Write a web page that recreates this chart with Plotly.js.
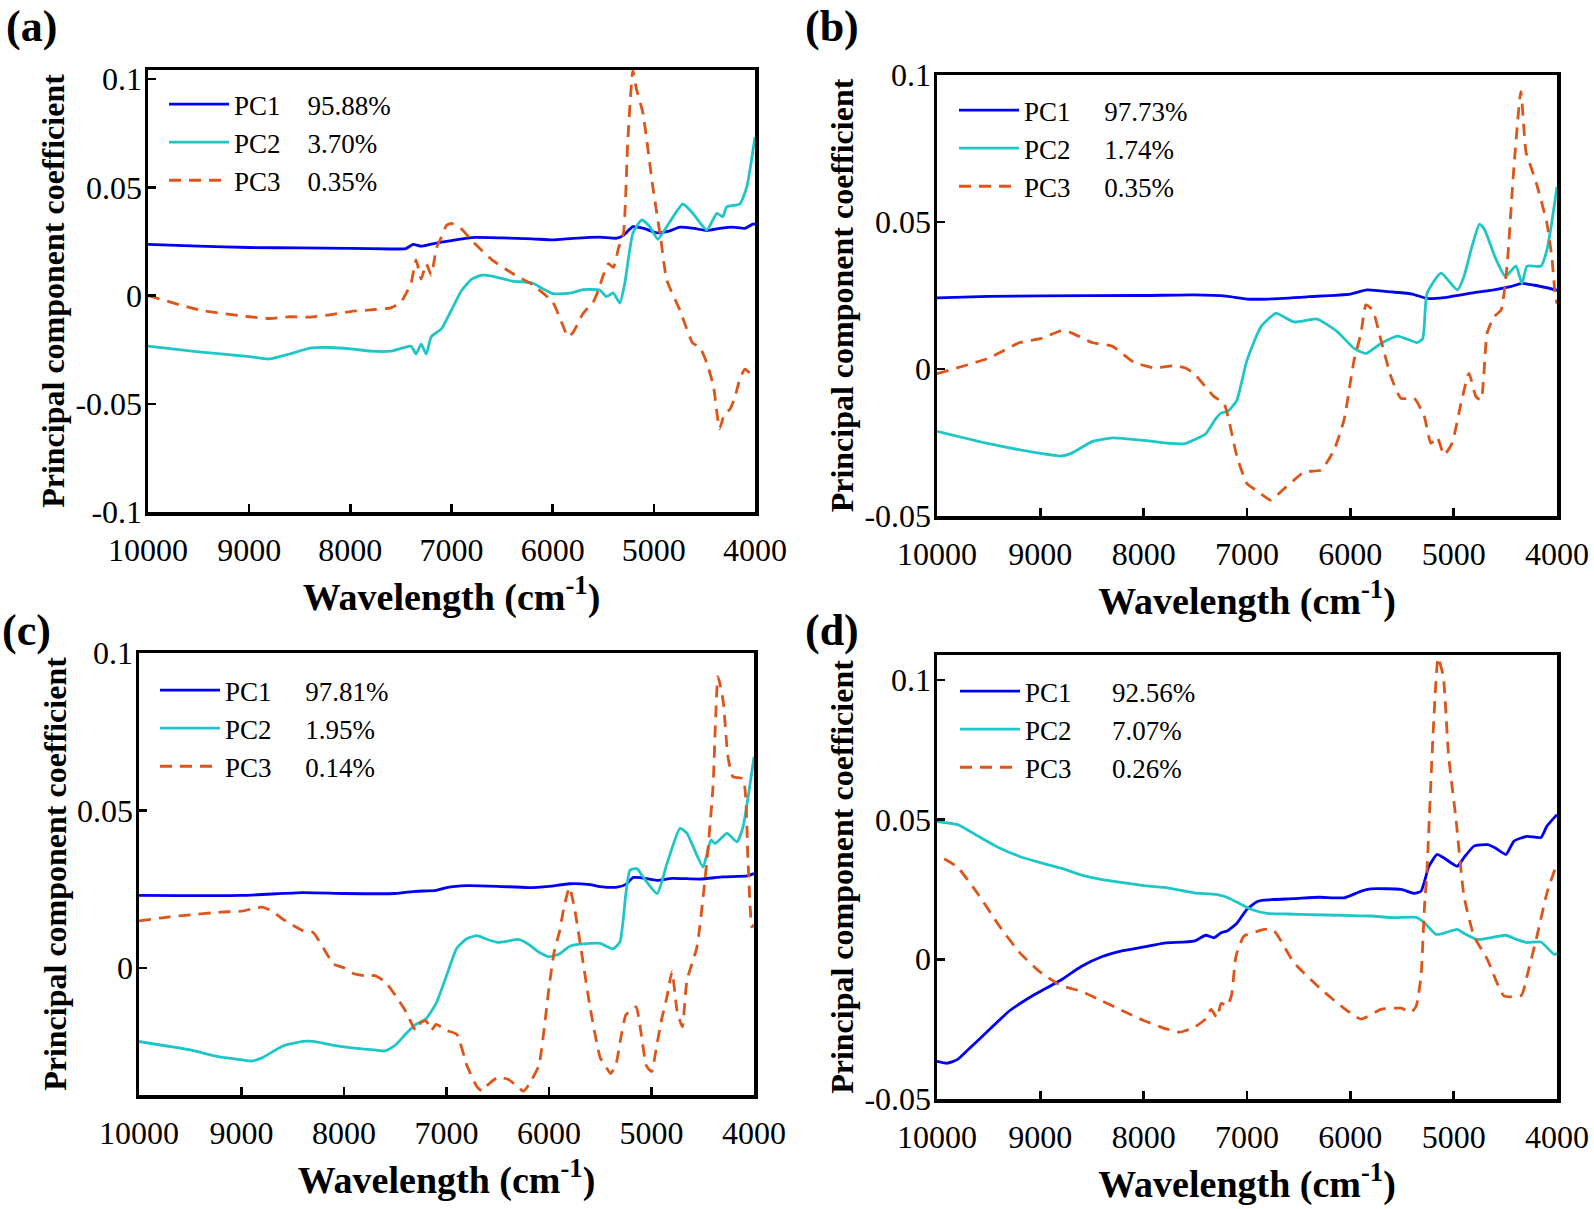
<!DOCTYPE html>
<html><head><meta charset="utf-8">
<script src="https://cdn.plot.ly/plotly-3.0.1.min.js"></script>
<style>html,body{margin:0;padding:0;background:#fff;} #chart{width:1594px;height:1209px;}</style>
</head><body><div id="chart"></div>
<script>
// ---------------- DATA ----------------
const panelLabels = ['(a)', '(b)', '(c)', '(d)'];
const seriesNames = ['PC1', 'PC2', 'PC3'];
const varianceA = ['95.88%', '3.70%', '0.35%'];
const varianceB = ['97.73%', '1.74%', '0.35%'];
const varianceC = ['97.81%', '1.95%', '0.14%'];
const varianceD = ['92.56%', '7.07%', '0.26%'];
const xTickVals = [10000, 9000, 8000, 7000, 6000, 5000, 4000];
const xTickText = ['10000', '9000', '8000', '7000', '6000', '5000', '4000'];
const yTickValsA = [-0.1, -0.05, 0, 0.05, 0.1];
const yTickTextA = ['-0.1', '-0.05', '0', '0.05', '0.1'];
const yTickValsB = [-0.05, 0, 0.05, 0.1];
const yTickTextB = ['-0.05', '0', '0.05', '0.1'];
const yTickValsC = [0, 0.05, 0.1];
const yTickTextC = ['0', '0.05', '0.1'];
const yTickValsD = [-0.05, 0, 0.05, 0.1];
const yTickTextD = ['-0.05', '0', '0.05', '0.1'];

// (a)
const a_pc1_x = [10000, 9500, 9000, 8500, 8000, 7600, 7450, 7380, 7300, 7200, 7000, 6800, 6500, 6200, 6000, 5800, 5534, 5366, 5300, 5207, 5100, 4970, 4850, 4743, 4600, 4476, 4350, 4219, 4100, 4022, 4000];
const a_pc1_y = [0.0236, 0.0228, 0.0222, 0.0220, 0.0218, 0.0215, 0.0217, 0.0236, 0.0228, 0.0238, 0.0254, 0.0268, 0.0266, 0.0262, 0.0257, 0.0264, 0.0270, 0.0265, 0.0278, 0.0318, 0.0310, 0.0290, 0.0298, 0.0316, 0.0310, 0.0300, 0.0310, 0.0316, 0.0310, 0.0330, 0.0330];
const a_pc2_x = [10000, 9500, 9000, 8800, 8600, 8400, 8200, 8000, 7800, 7600, 7400, 7350, 7300, 7250, 7200, 7100, 7000, 6900, 6800, 6700, 6600, 6400, 6200, 6100, 6000, 5900, 5800, 5700, 5534, 5468, 5402, 5336, 5287, 5207, 5119, 5040, 4960, 4872, 4713, 4615, 4476, 4377, 4318, 4279, 4150, 4081, 4000];
const a_pc2_y = [-0.0234, -0.026, -0.0282, -0.0293, -0.027, -0.0243, -0.024, -0.0246, -0.0257, -0.0257, -0.0234, -0.027, -0.0225, -0.027, -0.019, -0.0154, -0.0066, 0.0023, 0.0076, 0.0094, 0.009, 0.0067, 0.0058, 0.0032, 0.0009, 0.0009, 0.0014, 0.0027, 0.0025, -0.0005, 0.0012, -0.0035, 0.0057, 0.0288, 0.0349, 0.0318, 0.026, 0.0318, 0.0423, 0.038, 0.0303, 0.038, 0.0364, 0.041, 0.0423, 0.0502, 0.0733];
const a_pc3_x = [10000, 9500, 9000, 8800, 8600, 8400, 8200, 8000, 7800, 7600, 7500, 7400, 7350, 7300, 7250, 7200, 7150, 7100, 7050, 7000, 6900, 6800, 6600, 6400, 6200, 6000, 5900, 5850, 5800, 5700, 5600, 5550, 5500, 5450, 5400, 5350, 5300, 5257, 5207, 5174, 5108, 5010, 4930, 4872, 4743, 4615, 4546, 4476, 4410, 4350, 4300, 4250, 4200, 4150, 4100, 4050, 4000];
const a_pc3_y = [0, -0.0066, -0.0098, -0.0106, -0.0098, -0.01, -0.0089, -0.0074, -0.0066, -0.0057, -0.003, 0.0058, 0.0165, 0.0076, 0.0147, 0.0094, 0.0218, 0.027, 0.0324, 0.0333, 0.0307, 0.0254, 0.0165, 0.0103, 0.005, -0.003, -0.0137, -0.019, -0.0172, -0.0083, -0.003, 0.0023, 0.0094, 0.0147, 0.013, 0.0218, 0.0289, 0.0718, 0.104, 0.0958, 0.0843, 0.0502, 0.0256, 0.0072, -0.0067, -0.022, -0.0238, -0.0312, -0.042, -0.0615, -0.0544, -0.0527, -0.0473, -0.0385, -0.034, -0.0358, -0.0332];

// (b)
const b_pc1_x = [10000, 9500, 9000, 8000, 7513, 7200, 7000, 6800, 6400, 6000, 5839, 5600, 5400, 5258, 5093, 4800, 4610, 4450, 4339, 4200, 4000];
const b_pc1_y = [0.0242, 0.0247, 0.0249, 0.025, 0.0252, 0.0248, 0.0238, 0.0238, 0.0246, 0.0255, 0.0269, 0.0262, 0.0255, 0.024, 0.0243, 0.026, 0.0269, 0.028, 0.0291, 0.0284, 0.0268];
const b_pc2_x = [10000, 9500, 9000, 8800, 8700, 8500, 8300, 8000, 7800, 7600, 7513, 7400, 7300, 7252, 7190, 7100, 7000, 6864, 6719, 6545, 6322, 6129, 5964, 5849, 5704, 5542, 5355, 5300, 5258, 5123, 4965, 4900, 4832, 4750, 4700, 4600, 4500, 4397, 4339, 4290, 4155, 4097, 4050, 4000];
const b_pc2_y = [-0.0212, -0.0254, -0.0287, -0.0296, -0.0287, -0.0247, -0.0234, -0.0243, -0.0251, -0.0254, -0.0241, -0.0221, -0.0168, -0.015, -0.0145, -0.0108, 0.003, 0.0144, 0.0189, 0.016, 0.017, 0.0128, 0.007, 0.0053, 0.0087, 0.0112, 0.009, 0.0103, 0.0257, 0.0326, 0.0269, 0.0315, 0.0405, 0.0493, 0.0474, 0.0381, 0.0315, 0.035, 0.029, 0.035, 0.035, 0.0405, 0.05, 0.0619];
const b_pc3_x = [10000, 9500, 9200, 9000, 8800, 8700, 8500, 8300, 8100, 7900, 7700, 7600, 7513, 7319, 7223, 7097, 7000, 6900, 6768, 6650, 6545, 6448, 6284, 6158, 6061, 5964, 5897, 5849, 5784, 5704, 5607, 5510, 5381, 5284, 5220, 5161, 5093, 5016, 4929, 4852, 4784, 4736, 4677, 4610, 4542, 4484, 4420, 4350, 4300, 4250, 4200, 4100, 4050, 4020, 4000];
const b_pc3_y = [-0.0016, 0.0037, 0.009, 0.0103, 0.013, 0.0123, 0.009, 0.0077, 0.0024, 0.0004, 0.0011, 0.0004, -0.0015, -0.0094, -0.0117, -0.0298, -0.039, -0.0415, -0.0446, -0.041, -0.0378, -0.035, -0.0344, -0.0276, -0.0173, 0.003, 0.0121, 0.0218, 0.02, 0.0099, -0.0026, -0.01, -0.01, -0.0162, -0.0253, -0.0231, -0.0292, -0.0253, -0.0117, -0.0015, -0.0094, -0.0106, 0.0121, 0.0178, 0.02, 0.0348, 0.0672, 0.0943, 0.0738, 0.0685, 0.0632, 0.05, 0.0381, 0.0262, 0.0222];

// (c)
const c_pc1_x = [10000, 9000, 8400, 8000, 7500, 7300, 7100, 7000, 6800, 6500, 6200, 6000, 5800, 5600, 5502, 5337, 5250, 5180, 5100, 4946, 4800, 4527, 4300, 4068, 4000];
const c_pc1_y = [0.023, 0.023, 0.0239, 0.0236, 0.0236, 0.0243, 0.0246, 0.0255, 0.0261, 0.0259, 0.0255, 0.0259, 0.0267, 0.0264, 0.0258, 0.0256, 0.0265, 0.0287, 0.0286, 0.0278, 0.0284, 0.0282, 0.0289, 0.0292, 0.0299];
const c_pc2_x = [10000, 9500, 9200, 9000, 8900, 8800, 8600, 8400, 8300, 8100, 7900, 7700, 7600, 7500, 7400, 7300, 7200, 7100, 7000, 6900, 6800, 6700, 6600, 6500, 6400, 6300, 6200, 6100, 6000, 5900, 5800, 5700, 5502, 5376, 5307, 5250, 5210, 5142, 5083, 4946, 4849, 4722, 4654, 4498, 4420, 4380, 4263, 4166, 4107, 4000];
const c_pc2_y = [-0.0234, -0.0261, -0.0284, -0.0292, -0.0296, -0.0286, -0.0249, -0.0234, -0.0234, -0.0246, -0.0255, -0.0261, -0.0264, -0.0246, -0.0211, -0.018, -0.0162, -0.0112, -0.0025, 0.0062, 0.0093, 0.0102, 0.009, 0.0081, 0.0085, 0.009, 0.0075, 0.005, 0.0035, 0.0044, 0.0068, 0.0075, 0.0078, 0.006, 0.0083, 0.0236, 0.031, 0.0315, 0.0289, 0.0236, 0.0331, 0.0443, 0.0427, 0.0321, 0.0406, 0.0395, 0.0427, 0.04, 0.0448, 0.067];
const c_pc3_x = [10000, 9700, 9500, 9200, 9000, 8800, 8700, 8600, 8400, 8300, 8200, 8100, 8000, 7900, 7800, 7700, 7600, 7500, 7400, 7300, 7250, 7200, 7150, 7100, 7000, 6900, 6800, 6700, 6650, 6600, 6500, 6400, 6300, 6250, 6200, 6100, 6000, 5950, 5900, 5850, 5800, 5750, 5700, 5600, 5500, 5450, 5400, 5350, 5300, 5250, 5200, 5150, 5100, 5050, 5000, 4950, 4900, 4849, 4800, 4750, 4700, 4654, 4556, 4459, 4400, 4351, 4302, 4254, 4205, 4107, 4059, 4020, 4000];
const c_pc3_y = [0.0149, 0.0162, 0.0168, 0.0177, 0.018, 0.0193, 0.018, 0.0155, 0.0118, 0.0112, 0.0062, 0.0012, 0, -0.0019, -0.0025, -0.0025, -0.0044, -0.0087, -0.0137, -0.0199, -0.0174, -0.0168, -0.0199, -0.018, -0.0199, -0.0211, -0.0311, -0.0379, -0.0392, -0.0373, -0.0348, -0.0354, -0.0379, -0.0392, -0.0373, -0.0311, -0.0062, 0.005, 0.0112, 0.0199, 0.0255, 0.0187, 0.0087, -0.0124, -0.0286, -0.0311, -0.0336, -0.0311, -0.0224, -0.0149, -0.0137, -0.0124, -0.0211, -0.0311, -0.033, -0.0249, -0.0162, -0.0092, -0.0012, -0.0137, -0.0187, -0.004, 0.0067, 0.0342, 0.0575, 0.0925, 0.085, 0.067, 0.0607, 0.06, 0.0342, 0.013, 0.0137];

// (d)
const d_pc1_x = [10000, 9900, 9800, 9700, 9500, 9300, 9100, 9000, 8800, 8600, 8400, 8200, 8000, 7800, 7513, 7400, 7319, 7250, 7194, 7100, 7000, 6900, 6836, 6545, 6300, 6061, 5900, 5800, 5510, 5381, 5316, 5239, 5161, 5100, 4965, 4900, 4803, 4674, 4600, 4494, 4416, 4290, 4155, 4100, 4029, 4000];
const d_pc1_y = [-0.0365, -0.0372, -0.0358, -0.0324, -0.0254, -0.0185, -0.0136, -0.0115, -0.0074, -0.0025, 0.001, 0.0031, 0.0044, 0.0058, 0.0065, 0.0086, 0.0077, 0.0095, 0.0101, 0.0128, 0.0179, 0.0207, 0.0212, 0.0217, 0.0222, 0.022, 0.0243, 0.0252, 0.025, 0.0236, 0.0244, 0.0333, 0.0375, 0.0364, 0.0333, 0.0364, 0.0405, 0.041, 0.0399, 0.0375, 0.0423, 0.044, 0.0436, 0.0475, 0.0506, 0.0517];
const d_pc2_x = [10000, 9800, 9600, 9400, 9200, 9000, 8800, 8600, 8400, 8200, 8000, 7800, 7513, 7300, 7194, 7100, 6961, 6806, 6600, 6400, 6061, 5800, 5577, 5362, 5284, 5171, 5100, 4965, 4900, 4771, 4600, 4494, 4400, 4290, 4155, 4029, 4000];
const d_pc2_y = [0.0493, 0.0482, 0.044, 0.0399, 0.0368, 0.0346, 0.0326, 0.0301, 0.0285, 0.0274, 0.0264, 0.0257, 0.0238, 0.0232, 0.0222, 0.0205, 0.0179, 0.0164, 0.0162, 0.016, 0.0157, 0.0155, 0.0149, 0.015, 0.0131, 0.0089, 0.0093, 0.0107, 0.0093, 0.0071, 0.008, 0.0086, 0.0072, 0.006, 0.0062, 0.0018, 0.002];
const d_pc3_x = [9930, 9800, 9600, 9400, 9200, 9000, 8800, 8600, 8400, 8200, 8000, 7800, 7700, 7650, 7513, 7400, 7348, 7290, 7250, 7194, 7150, 7106, 7029, 6900, 6836, 6739, 6545, 6284, 6090, 5897, 5704, 5510, 5413, 5362, 5316, 5284, 5258, 5200, 5150, 5100, 5050, 4977, 4900, 4803, 4674, 4513, 4345, 4290, 4194, 4097, 4010];
const d_pc3_y = [0.036, 0.0329, 0.0232, 0.0121, 0.0024, -0.0046, -0.0094, -0.0115, -0.015, -0.0185, -0.0219, -0.0247, -0.0257, -0.0261, -0.0244, -0.0213, -0.0179, -0.0209, -0.0157, -0.0167, -0.0129, 0.0012, 0.0083, 0.01, 0.0107, 0.0102, -0.0012, -0.0107, -0.0167, -0.0214, -0.0179, -0.0175, -0.019, -0.0167, -0.006, 0.0179, 0.0321, 0.0801, 0.1079, 0.101, 0.0732, 0.05, 0.0226, 0.0083, 0, -0.0131, -0.0129, -0.006, 0.0083, 0.0238, 0.0333];

// ---------------- STYLE / LAYOUT ----------------
const W = 1594, H = 1209;
const FONT = '"Liberation Serif", "Times New Roman", serif';
const COLORS = ['#0000F5', '#1FC6C8', '#DE5519'];
const DASHES = ['solid', 'solid', '12px,8px'];

// plot boxes in page pixels: [left, right, top, bottom]
const boxes = [[148, 755, 70, 512], [937, 1557, 75, 516], [139, 754, 653, 1095], [937, 1557, 655, 1099]];
const yRanges = [[-0.1, 0.1042], [-0.05, 0.1], [-0.0404, 0.1], [-0.05, 0.1089]];
const yTicks = [[yTickValsA, yTickTextA], [yTickValsB, yTickTextB], [yTickValsC, yTickTextC], [yTickValsD, yTickTextD]];
const variances = [varianceA, varianceB, varianceC, varianceD];
const gaps = [4, 5, 5, 6];
const panelData = [
  [[a_pc1_x, a_pc1_y], [a_pc2_x, a_pc2_y], [a_pc3_x, a_pc3_y]],
  [[b_pc1_x, b_pc1_y], [b_pc2_x, b_pc2_y], [b_pc3_x, b_pc3_y]],
  [[c_pc1_x, c_pc1_y], [c_pc2_x, c_pc2_y], [c_pc3_x, c_pc3_y]],
  [[d_pc1_x, d_pc1_y], [d_pc2_x, d_pc2_y], [d_pc3_x, d_pc3_y]]
];
const legendPos = [[164, 80], [954, 86], [155, 666], [955, 667]];
const labelPos = [[32, 27], [832, 27], [26, 630], [832, 630]];

const traces = [];
const layout = {
  width: W, height: H,
  margin: {l: 0, r: 0, t: 0, b: 0},
  paper_bgcolor: '#ffffff', plot_bgcolor: '#ffffff',
  font: {family: FONT, color: '#000000'},
  showlegend: true,
  annotations: []
};

for (let p = 0; p < 4; p++) {
  const sfx = p === 0 ? '' : String(p + 1);
  const [l, r, t, b] = boxes[p];
  const legName = 'legend' + sfx;
  for (let s = 0; s < 3; s++) {
    traces.push({
      type: 'scatter', mode: 'lines',
      x: panelData[p][s][0], y: panelData[p][s][1],
      xaxis: 'x' + sfx, yaxis: 'y' + sfx,
      legend: legName,
      name: seriesNames[s] + '\u00a0'.repeat(gaps[p]) + variances[p][s],
      line: {color: COLORS[s], width: 2.8, dash: DASHES[s], shape: 'spline', smoothing: 0.5},
      hoverinfo: 'skip'
    });
  }
  layout['xaxis' + sfx] = {
    domain: [l / W, r / W], anchor: 'y' + sfx,
    range: [10000, 4000], autorange: false,
    tickmode: 'array', tickvals: xTickVals, ticktext: xTickText,
    ticks: 'inside', ticklen: 8, tickwidth: 2.5, tickcolor: '#000',
    showline: true, linewidth: 3.5, linecolor: '#000', mirror: true,
    showgrid: false, zeroline: false,
    tickfont: {family: FONT, size: 32, color: '#000'},
    ticklabelstandoff: 7,
    title: {text: 'Wavelength (cm<sup>-1</sup>)', font: {family: FONT, size: 38, color: '#000', weight: 'bold'}, standoff: 17}
  };
  layout['yaxis' + sfx] = {
    domain: [1 - b / H, 1 - t / H], anchor: 'x' + sfx,
    range: yRanges[p], autorange: false,
    tickmode: 'array', tickvals: yTicks[p][0], ticktext: yTicks[p][1],
    ticks: 'inside', ticklen: 8, tickwidth: 2.5, tickcolor: '#000',
    showline: true, linewidth: 3.5, linecolor: '#000', mirror: true,
    showgrid: false, zeroline: false,
    tickfont: {family: FONT, size: 32, color: '#000'},
    ticklabelstandoff: -4,
    title: {text: 'Principal component coefficient', font: {family: FONT, size: 32, color: '#000', weight: 'bold'}, standoff: 2}
  };
  layout[legName] = {
    x: legendPos[p][0] / W, y: 1 - legendPos[p][1] / H,
    xanchor: 'left', yanchor: 'top',
    bgcolor: 'rgba(0,0,0,0)', borderwidth: 0,
    font: {family: FONT, size: 27, color: '#000'},
    itemwidth: 60, tracegroupgap: 0
  };
  layout.annotations.push({
    xref: 'paper', yref: 'paper',
    x: labelPos[p][0] / W, y: 1 - labelPos[p][1] / H,
    xanchor: 'center', yanchor: 'middle', showarrow: false,
    text: panelLabels[p],
    font: {family: FONT, size: 44, color: '#000', weight: 'bold'}
  });
}

Plotly.newPlot('chart', traces, layout, {displayModeBar: false, staticPlot: true});
</script></body></html>
